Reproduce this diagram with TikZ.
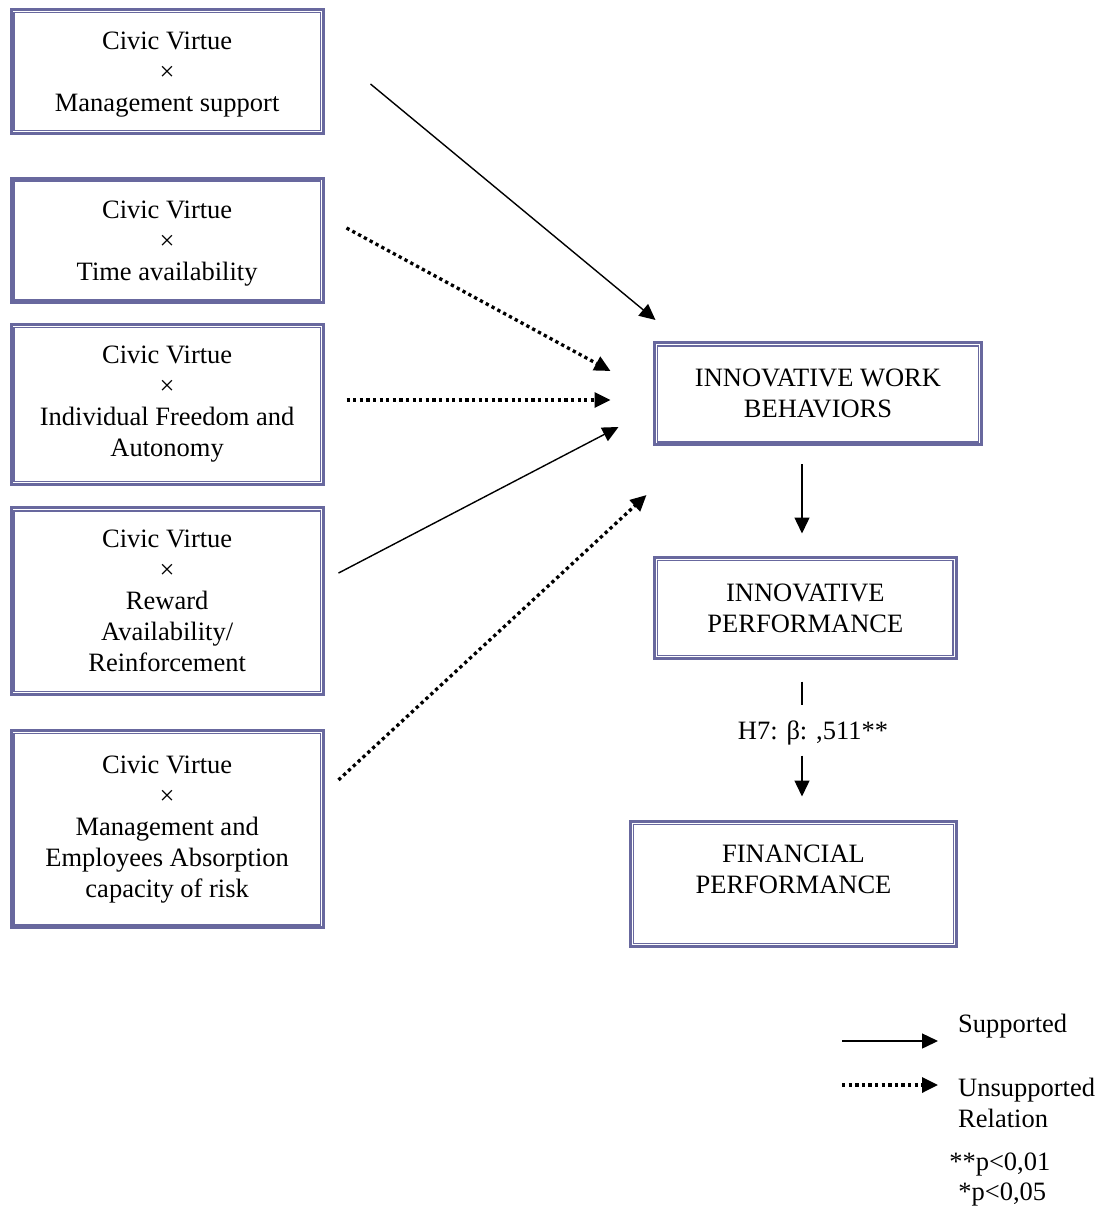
\documentclass[tikz,border=0pt]{standalone}
\usepackage{fontspec}
\setmainfont{Liberation Serif}
\usetikzlibrary{arrows.meta}

\definecolor{frame}{RGB}{104,104,158}

\tikzset{
  every node/.style={font=\fontsize{26.5}{31}\selectfont, align=center, inner sep=0pt},
  dblbox/.style={draw=frame, line width=3pt, inner sep=0pt},
  innerframe/.style={draw=frame, line width=1.5pt},
  tip/.style={-{Triangle[length=16pt,width=15pt]}},
  supported/.style={tip, line width=1.4pt},
  unsupported/.style={tip, line width=3.3pt, dash pattern=on 3.3pt off 3.3pt},
  plain/.style={line width=1.4pt}
}

% double frame: thick outer line, thin inner line
\newcommand{\innerrect}[1]{%
  \draw[innerframe] ([shift={(4.5,4.5)}]#1.north west) rectangle ([shift={(-4.5,-4.5)}]#1.south east);}

\begin{document}
\begin{tikzpicture}[x=1pt,y=-1pt]
\useasboundingbox (0,0) rectangle (1106,1207);

% moderator boxes
\node[dblbox, minimum width=312.3pt, minimum height=123.6pt] (b1) at (167.15,71.5)
  {\strut\\[-28pt]Civic Virtue\\×\\Management support};
\node[dblbox, minimum width=312.3pt, minimum height=124.8pt] (b2) at (167.15,240.4)
  {\strut\\[-28pt]Civic Virtue\\×\\Time availability};
\node[dblbox, minimum width=312.3pt, minimum height=159.8pt] (b3) at (167.15,404.4)
  {Civic Virtue\\×\\Individual Freedom and\\Autonomy};
\node[dblbox, minimum width=312.3pt, minimum height=186.5pt] (b4) at (167.15,601.05)
  {Civic Virtue\\×\\Reward\\Availability/\\Reinforcement};
\node[dblbox, minimum width=312.3pt, minimum height=197.3pt] (b5) at (167.15,829.15)
  {Civic Virtue\\×\\Management and\\Employees Absorption\\capacity of risk};

% outcome boxes
\node[dblbox, minimum width=326.6pt, minimum height=102pt] (iwb) at (818,393.9)
  {INNOVATIVE WORK\\BEHAVIORS};
\node[dblbox, minimum width=301.3pt, minimum height=101.4pt] (ip) at (805.35,608)
  {INNOVATIVE\\PERFORMANCE};
\node[dblbox, minimum width=325.6pt, minimum height=125pt] (fp) at (793.5,883.8)
  {FINANCIAL\\PERFORMANCE\\[-12pt]\strut};

\foreach \n in {b1,b2,b3,b4,b5,iwb,ip,fp}{\innerrect{\n}}

% connector end points
\coordinate (s1) at ([shift={(45.7,12.5)}]b1.east);
\coordinate (s2) at ([shift={(21.7,-12.4)}]b2.east);
\coordinate (s3) at ([shift={(21.7,-4.4)}]b3.east);
\coordinate (s4) at ([shift={(13.7,-28)}]b4.east);
\coordinate (s5) at ([shift={(13.7,-49.2)}]b5.east);
\coordinate (e1) at ([shift={(2.3,-73.9)}]iwb.west);
\coordinate (e2) at ([shift={(-42.7,-22.9)}]iwb.west);
\coordinate (e3) at ([shift={(-42.7,6.1)}]iwb.west);
\coordinate (e4) at ([shift={(-34.7,33.1)}]iwb.west);
\coordinate (e5) at ([shift={(-6.7,101.1)}]iwb.west);

\draw[supported]   (s1) -- (e1);
\draw[unsupported] (s2) -- (e2);
\draw[unsupported] (s3) -- (e3);
\draw[supported]   (s4) -- (e4);
\draw[unsupported] (s5) -- (e5);

% innovative work behaviors -> innovative performance
\coordinate (v1) at ([shift={(-16,18)}]iwb.south);
\coordinate (v2) at ([shift={(-3.35,-22.3)}]ip.north);
\draw[supported] (v1) -- (v2);

% innovative performance -> financial performance (H7)
\coordinate (w1) at ([shift={(-3.35,21.3)}]ip.south);
\coordinate (w2) at ([shift={(-3.35,44.3)}]ip.south);
\coordinate (w3) at ([shift={(8.5,-64.3)}]fp.north);
\coordinate (w4) at ([shift={(8.5,-23.3)}]fp.north);
\draw[plain] (w1) -- (w2);
\node (h7) at (813,733) {H7: β: ,511**};
\draw[supported] (w3) -- (w4);

% legend
\coordinate (la) at (842,1041);
\coordinate (lb) at (938,1041);
\coordinate (lc) at (842,1085);
\coordinate (ld) at (938,1085);
\draw[supported] (la) -- (lb);
\draw[unsupported] (lc) -- (ld);
\node[anchor=west] (lsup) at (958,1026) {Supported};
\node[anchor=west, align=left] (lunsup) at (958,1103) {Unsupported\\Relation};
\node (p1) at (999.8,1164) {**p<0,01};
\node (p2) at (1002.3,1194) {*p<0,05};

\end{tikzpicture}
\end{document}
